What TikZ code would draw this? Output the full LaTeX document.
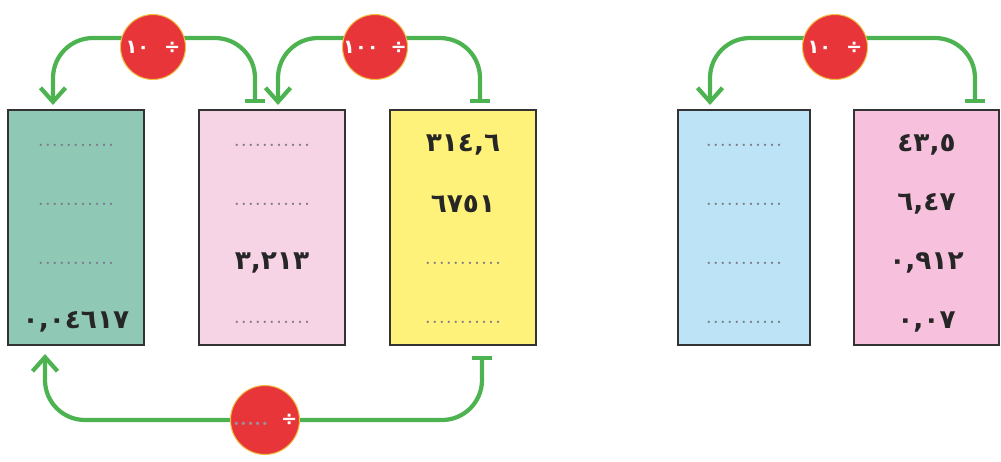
\documentclass[tikz,border=0pt]{standalone}
\usepackage{fontspec}
\TeXXeTstate=1
\newfontfamily\arabicfont[Script=Arabic]{DejaVu Sans}
\usetikzlibrary{arrows.meta,backgrounds}

\definecolor{arrowgreen}{RGB}{77,178,80}
\definecolor{circred}{RGB}{232,53,58}
\definecolor{circrim}{RGB}{240,190,70}
\definecolor{boxgreen}{RGB}{143,201,181}
\definecolor{boxpink}{RGB}{247,211,230}
\definecolor{boxyellow}{RGB}{255,242,122}
\definecolor{boxblue}{RGB}{189,227,246}
\definecolor{boxrose}{RGB}{247,192,220}
\definecolor{dotgray}{RGB}{125,120,135}
\definecolor{edgegray}{RGB}{51,51,51}

\tikzset{
    numbox/.style={draw=edgegray, line width=1.2pt, minimum height=4.7cm, inner sep=0pt},
    divcircle/.style={circle, fill=circred, draw=circrim, line width=0.6pt, minimum size=1.3cm,
        inner sep=0pt, text=white, font=\arabicfont\bfseries\fontsize{11}{11}\selectfont},
    flow/.style={draw=arrowgreen, line width=2.4pt, rounded corners=0.8cm},
    barstart/.style={{Bar[width=0.4cm]}-},
    barbend/.style={-{Straight Barb[length=0.28cm,width=0.5cm]}},
    num/.style={font=\arabicfont\bfseries\fontsize{15}{18}\selectfont, text=black!85},
    blank/.style={font=\fontsize{16}{16}\selectfont, text=dotgray},
}

\begin{document}
\begin{tikzpicture}[x=0.02cm, y=-0.02cm]
    \useasboundingbox (0,0) rectangle (1001,461);

    % number boxes
    \node[numbox, fill=boxgreen, minimum width=2.72cm] (greenbox) at (76,227.5) {};
    \node[numbox, fill=boxpink, minimum width=2.92cm] (pinkbox) at (272,227.5) {};
    \node[numbox, fill=boxyellow, minimum width=2.92cm] (yellowbox) at (463,227.5) {};
    \node[numbox, fill=boxblue, minimum width=2.64cm] (bluebox) at (744,227.5) {};
    \node[numbox, fill=boxrose, minimum width=2.9cm] (rosebox) at (926.5,227.5) {};

    % rows
    \foreach \y [count=\i] in {145,204,263} {
        \node[blank] (g\i) at (76,\y) {...........};
    }
    \node[num] (g4) at (76,322) {٠,٠٤٦١٧};

    \node[blank] (p1) at (272,145) {...........};
    \node[blank] (p2) at (272,204) {...........};
    \node[num] (p3) at (272,263) {٣,٢١٣};
    \node[blank] (p4) at (272,322) {...........};

    \node[num] (y1) at (463,145) {٣١٤,٦};
    \node[num] (y2) at (463,204) {٦٧٥١};
    \node[blank] (y3) at (463,263) {...........};
    \node[blank] (y4) at (463,322) {...........};

    \foreach \y [count=\i] in {145,204,263,322} {
        \node[blank] (b\i) at (744,\y) {...........};
    }

    \node[num] (r1) at (926.5,145) {٤٣,٥};
    \node[num] (r2) at (926.5,204) {٦,٤٧};
    \node[num] (r3) at (926.5,263) {٠,٩١٢};
    \node[num] (r4) at (926.5,322) {٠,٠٧};

    % division circles
    \node[divcircle] (div1) at (153,47) {\makebox[0pt]{\beginR ÷\hspace{0.3cm}١٠\endR}};
    \node[divcircle] (div2) at (375,47) {\makebox[0pt]{\beginR ÷\hspace{0.24cm}١٠٠\endR}};
    \node[divcircle] (div3) at (835,47) {\makebox[0pt]{\beginR ÷\hspace{0.3cm}١٠\endR}};
    \node[divcircle, minimum size=1.38cm] (div4) at (265,420)
        {\makebox[0pt]{\textcolor{dotgray!80}{\rmfamily\fontsize{13}{13}\selectfont .....}\hspace{0.25cm}÷}};

    \begin{pgfonlayer}{background}
    \draw[flow, barstart] ([xshift=-0.34cm,yshift=0.12cm]pinkbox.north) |- ([yshift=0.18cm]div1.center);
    \draw[flow, barbend] ([yshift=0.18cm]div1.center) -| ([xshift=-0.46cm,yshift=0.08cm]greenbox.north);

    \draw[flow, barstart] ([xshift=0.34cm,yshift=0.12cm]yellowbox.north) |- ([yshift=0.18cm]div2.center);
    \draw[flow, barbend] ([yshift=0.18cm]div2.center) -| ([xshift=0.12cm,yshift=0.08cm]pinkbox.north);

    \draw[flow, barstart] ([xshift=0.97cm,yshift=0.12cm]rosebox.north) |- ([yshift=0.18cm]div3.center);
    \draw[flow, barbend] ([yshift=0.18cm]div3.center) -| ([xshift=-0.68cm,yshift=0.08cm]bluebox.north);

    \draw[flow, barstart] ([xshift=0.38cm,yshift=-0.2cm]yellowbox.south) |- (div4.center);
    \draw[flow, barbend] (div4.center) -| ([xshift=-0.62cm,yshift=-0.16cm]greenbox.south);
    \end{pgfonlayer}
\end{tikzpicture}
\end{document}
